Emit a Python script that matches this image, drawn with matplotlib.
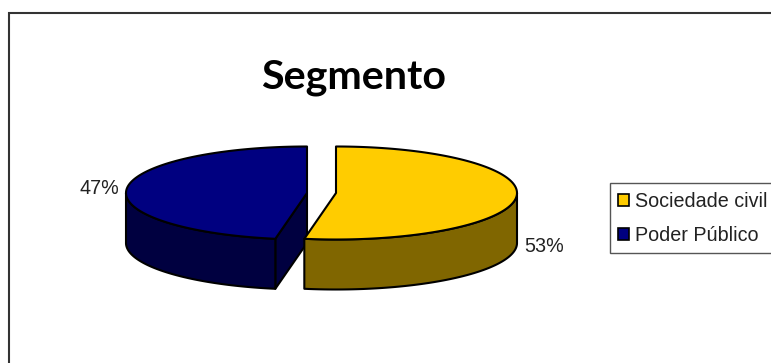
import numpy as np
import matplotlib
matplotlib.use("Agg")
import matplotlib.pyplot as plt
from matplotlib.patches import Polygon, Patch

title = "Segmento"
categories = ["Sociedade civil", "Poder Público"]
values = [52.8, 47.2]
top_colors = ["#FFCC00", "#000080"]
side_colors = ["#806600", "#000040"]

W, H = 771, 363
RX, RY, DEPTH = 181, 46.5, 50
CENTERS = [(336, 193), (307, 193)]
LABEL_POS = [(524, 247), (119, 188.5)]
LABEL_HA = ["left", "right"]


def rim(cx, cy, a0, a1):
    # angles in degrees, clockwise from the top of the pie
    t = np.radians(np.linspace(a0, a1, 200))
    return np.column_stack([cx + RX * np.sin(t), cy - RY * np.cos(t)])


def draw_slice(ax, center, a0, a1, top, side):
    cx, cy = center
    down = np.array([0, DEPTH])
    style = dict(edgecolor="black", linewidth=1.5, joinstyle="round")

    # cut faces that can be seen from the front
    start = rim(cx, cy, a0, a0)[0]
    if start[0] < cx:
        face = [(cx, cy), start, start + down, np.array([cx, cy]) + down]
        ax.add_patch(Polygon(face, facecolor=side, **style))

    # outer wall, only the front half of the rim
    lo, hi = max(a0, 90), min(a1, 270)
    if lo < hi:
        edge = rim(cx, cy, lo, hi)
        ax.add_patch(Polygon(np.vstack([edge, (edge + down)[::-1]]), facecolor=side, **style))

    outline = np.vstack([[(cx, cy)], rim(cx, cy, a0, a1)])
    ax.add_patch(Polygon(outline, facecolor=top, **style))


fig = plt.figure(figsize=(W / 100, H / 100), dpi=100)
ax = fig.add_axes([0, 0, 1, 1])
ax.set_xlim(0, W)
ax.set_ylim(H, 0)
ax.axis("off")

# chart frame, runs off the right and bottom of the image
ax.plot([8.5, 8.5, W], [H, 13, 13], color="#333333", linewidth=1.5, solid_joinstyle="miter")

ax.text(353.5, 78, title, family="Lato", fontweight="bold", fontsize=29.7,
        ha="center", va="center", color="black")

# blue first so the yellow wall sits over it
angles = np.cumsum([0] + values) / sum(values) * 360
for i in [1, 0]:
    draw_slice(ax, CENTERS[i], angles[i], angles[i + 1], top_colors[i], side_colors[i])
    ax.text(LABEL_POS[i][0], LABEL_POS[i][1], f"{values[i]:.0f}%", family="Liberation Sans",
            fontsize=14.2, ha=LABEL_HA[i], va="center", color="#222222")

handles = [Patch(facecolor=c, edgecolor="black", linewidth=1.2) for c in top_colors]
leg = ax.legend(handles, categories, loc="upper left", bbox_to_anchor=(609.5 / W, 1 - 183.5 / H),
                borderaxespad=0, prop={"family": "Liberation Sans", "size": 14.2},
                frameon=True, fancybox=False, edgecolor="#555555", facecolor="white",
                framealpha=1, handlelength=0.55, handleheight=0.55, handletextpad=0.3,
                labelspacing=0.78, borderpad=0.42, labelcolor="#222222")
leg.get_frame().set_linewidth(1.0)

fig.savefig("out.png", dpi=100)
